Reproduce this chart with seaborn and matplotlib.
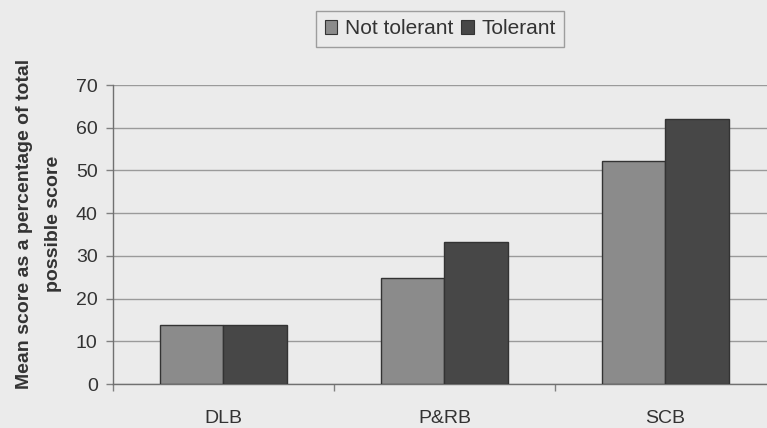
import matplotlib
matplotlib.use("Agg")
import matplotlib.pyplot as plt
from matplotlib.patches import Patch
from matplotlib.ticker import FixedLocator
import pandas as pd
import seaborn as sns

# Mean score (% of total possible score) by behaviour category
categories = ["DLB", "P&RB", "SCB"]
not_tolerant = [13.8, 24.9, 52.2]
tolerant = [13.8, 33.3, 62.0]
groups = ["Not tolerant", "Tolerant"]
yticks = [0, 10, 20, 30, 40, 50, 60, 70]

df = pd.DataFrame({
    "category": categories * 2,
    "score": not_tolerant + tolerant,
    "group": [groups[0]] * len(categories) + [groups[1]] * len(categories),
})

sns.set_theme(style="white")
plt.rcParams["font.family"] = ["Liberation Sans", "DejaVu Sans"]

bg = "#ebebeb"
palette = {"Not tolerant": "#8b8b8b", "Tolerant": "#474747"}

fig = plt.figure(figsize=(7.67, 4.28), dpi=100, facecolor=bg)
ax = fig.add_axes([0.1473, 0.1028, 0.8644, 0.6986])
ax.set_facecolor(bg)

sns.barplot(data=df, x="category", y="score", hue="group", order=categories,
            hue_order=groups, palette=palette, width=0.574, gap=0,
            edgecolor="#333333", linewidth=1.0, saturation=1, legend=False,
            errorbar=None, ax=ax, zorder=3)

ax.set_xlim(-0.5, 2.5)
ax.set_ylim(0, 70)
ax.set_yticks(yticks)
ax.yaxis.grid(True, color="#9a9a9a", linewidth=1.0, zorder=0)
ax.set_axisbelow(True)

for side in ["top", "right"]:
    ax.spines[side].set_visible(False)
for side in ["left", "bottom"]:
    ax.spines[side].set_color("#707070")
    ax.spines[side].set_linewidth(1.0)

ax.tick_params(axis="y", which="major", length=5, width=1, color="#808080",
               direction="out", labelsize=14, labelcolor="#333333", pad=6,
               left=True)
ax.tick_params(axis="x", which="major", length=0, labelsize=14,
               labelcolor="#333333", pad=19)
ax.xaxis.set_minor_locator(FixedLocator([-0.5, 0.5, 1.5, 2.5]))
ax.tick_params(axis="x", which="minor", length=5, width=1, color="#808080",
               direction="out", bottom=True)

ax.set_xlabel("")
ax.set_ylabel("Mean score as a percentage of total\npossible score",
              fontsize=14, fontweight="bold", color="#333333",
              linespacing=1.95)
ax.yaxis.set_label_coords(-0.077, 0.535)

handles = [Patch(facecolor=palette[g], edgecolor="#333333", linewidth=0.8)
           for g in groups]
leg = fig.legend(handles, groups, loc="upper center", ncol=2,
                 bbox_to_anchor=(0.574, 0.975), frameon=True, fancybox=False,
                 fontsize=15, handlelength=0.6, handleheight=0.6,
                 handletextpad=0.35, columnspacing=0.4, borderpad=0.42,
                 borderaxespad=0)
leg.get_frame().set_edgecolor("#8a8a8a")
leg.get_frame().set_facecolor(bg)
leg.get_frame().set_linewidth(1.0)
for t in leg.get_texts():
    t.set_color("#333333")

fig.savefig("out.png", dpi=100, facecolor=bg)
